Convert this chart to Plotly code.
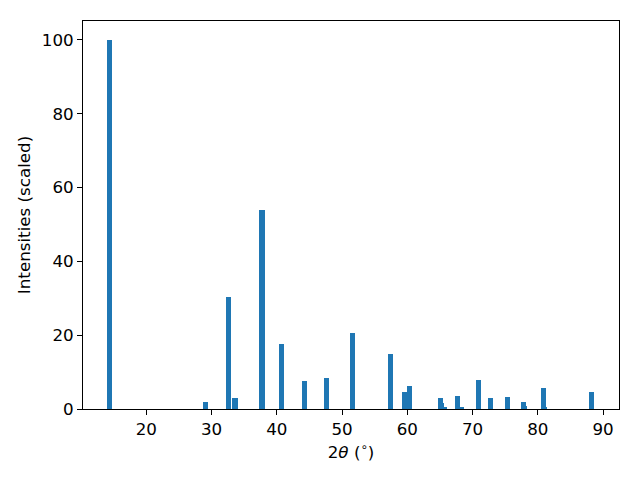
import plotly.graph_objects as go

two_theta = [14.34, 29.02, 32.54, 33.61, 37.75, 40.67, 44.27, 47.56, 51.55,
             57.37, 59.52, 60.37, 65.04, 65.19, 65.65, 67.65, 68.26, 70.87,
             72.71, 75.39, 77.77, 77.92, 80.83, 80.98, 88.19]
intensity = [100.0, 1.9, 30.35, 3.0, 53.9, 17.6, 7.6, 8.4, 20.6,
             14.9, 4.6, 6.2, 3.0, 1.6, 0.5, 3.5, 0.5, 7.9,
             3.0, 3.25, 1.9, 0.8, 5.7, 0.3, 4.6]

FS = 16.7
axis_common = dict(showline=True, linecolor="black", linewidth=1, mirror=True,
                   ticks="outside", ticklen=5, tickwidth=1, tickcolor="black",
                   showgrid=False, zeroline=False,
                   tickfont=dict(family="DejaVu Sans", size=FS, color="black"))

fig = go.Figure()
fig.add_trace(go.Bar(x=two_theta, y=intensity, width=0.8,
                     marker=dict(color="#1f77b4", line=dict(width=0))))

fig.update_layout(
    width=640, height=480,
    margin=dict(l=75, r=29, t=13, b=79),
    paper_bgcolor="white", plot_bgcolor="white",
    showlegend=False, barmode="overlay", bargap=0,
    font=dict(family="DejaVu Sans", size=FS, color="black"),
    xaxis=dict(range=[10.3, 92.45], tickvals=[20, 30, 40, 50, 60, 70, 80, 90],
               title=dict(text="2<i>θ</i> (<sup>∘</sup>)", standoff=8,
                          font=dict(family="DejaVu Sans", size=FS, color="black")),
               **axis_common),
    yaxis=dict(range=[0, 105.1], tickvals=[0, 20, 40, 60, 80, 100],
               title=dict(text="Intensities (scaled)", standoff=6,
                          font=dict(family="DejaVu Sans", size=FS, color="black")),
               **axis_common),
)

fig.write_html("out.html")
